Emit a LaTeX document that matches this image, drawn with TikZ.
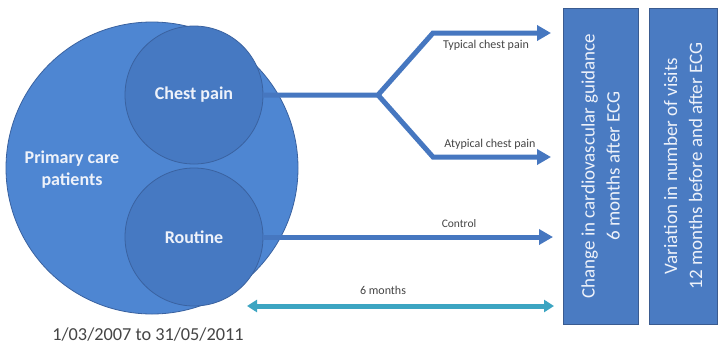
\documentclass[tikz,border=0pt]{standalone}
\usepackage{fontspec}
\setmainfont{Carlito}
\usetikzlibrary{arrows.meta}
\definecolor{bigfill}{HTML}{4E86D2}
\definecolor{smallfill}{HTML}{4679C2}
\definecolor{circline}{HTML}{3A62A0}
\definecolor{boxfill}{HTML}{4A7BC2}
\definecolor{boxline}{HTML}{3A5B90}
\definecolor{arrblue}{HTML}{4677C0}
\definecolor{arrteal}{HTML}{3CA5C2}
\definecolor{lbl}{HTML}{454545}
\definecolor{ltext}{HTML}{EEF2FA}
\tikzset{
  bigcirc/.style={circle, fill=bigfill, draw=circline, line width=0.8pt, minimum size=292pt, inner sep=0pt},
  smallcirc/.style={circle, fill=smallfill, draw=circline, line width=0.8pt, minimum size=138pt, inner sep=0pt,
    text=ltext, font=\fontsize{18}{22}\selectfont\bfseries},
  circtext/.style={text=ltext, font=\fontsize{18}{22}\selectfont\bfseries, align=center},
  outbox/.style={rotate=90, fill=boxfill, draw=boxline, line width=0.8pt, minimum width=316pt,
    inner sep=0pt, text=ltext, font=\fontsize{19}{25}\selectfont, align=center},
  flow/.style={draw=arrblue, line width=5pt, line join=miter, -{Triangle[length=14pt,width=15pt]}},
  span/.style={draw=arrteal, line width=5pt, {Triangle[length=10pt,width=12pt]}-{Triangle[length=10pt,width=12pt]}},
  small/.style={text=lbl, font=\fontsize{12}{14}\selectfont, inner sep=0pt},
  datetext/.style={text=lbl, font=\fontsize{18.3}{20}\selectfont, inner sep=0pt}
}
\begin{document}
\begin{tikzpicture}[x=1pt,y=-1pt]
\useasboundingbox (0,0) rectangle (719,354);
\fill[white] (0,0) rectangle (719,354);

\node[bigcirc] (pc) at (152,168) {};
\node[circtext] (pctext) at (72,170) {Primary care\\patients};
\node[smallcirc] (cp) at (194,95) {Chest pain};
\node[smallcirc] (rt) at (194,237) {Routine};

\node[datetext] (date) at (148,335) {1/03/2007 to 31/05/2011};

\coordinate (br) at (378,95);
\coordinate (up) at (433,33);
\coordinate (upend) at (551,33);
\coordinate (lo) at (433,157);
\coordinate (loend) at (551,157);
\coordinate (ctend) at (553,237);
\coordinate (sixa) at (247,306);
\coordinate (sixb) at (554,306);

\draw[flow] (cp.east) -- (br) -- (up) -- (upend);
\draw[flow] (br) -- (lo) -- (loend);
\draw[flow] (rt.east) -- (ctend);
\draw[span] (sixa) -- (sixb);

\node[small] (typ) at (486,45) {Typical chest pain};
\node[small] (atyp) at (490,144) {Atypical chest pain};
\node[small, font=\fontsize{11.5}{14}\selectfont] (ctl) at (459,224) {Control};
\node[small] (six) at (383,290) {6 months};

\node[outbox, minimum height=75pt] (box1) at (600.5,166)
  {Change in cardiovascular guidance\\6 months after ECG};
\node[outbox, minimum height=68pt] (box2) at (683,166)
  {Variation in number of visits\\12 months before and after ECG};
\end{tikzpicture}
\end{document}
